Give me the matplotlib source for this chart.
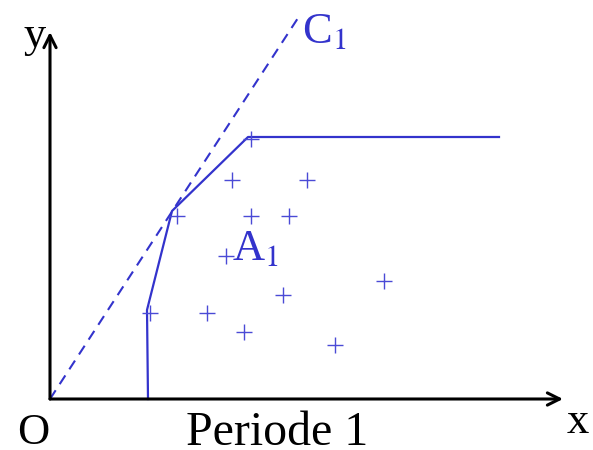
import matplotlib
matplotlib.use("Agg")
import matplotlib.pyplot as plt

plt.rcParams['font.family'] = ['Liberation Serif', 'DejaVu Serif']
plt.rcParams['mathtext.fontset'] = 'stix'

# production possibilities (period 1), units of 50 px
plan_x = [4.02, 3.64, 5.14, 2.54, 4.02, 4.78, 3.52, 6.68, 4.66, 2.00, 3.14, 3.88, 5.70]
plan_y = [5.20, 4.38, 4.38, 3.66, 3.66, 3.66, 2.86, 2.36, 2.08, 1.72, 1.72, 1.34, 1.08]

# efficient frontier A1
front_x = [1.96, 1.94, 2.44, 3.96, 8.98]
front_y = [0.00, 1.78, 3.76, 5.24, 5.24]

# cone C1 (ray through origin)
cone_x = [0.0, 4.96]
cone_y = [0.0, 7.62]

blue = '#3333cc'

fig = plt.figure(figsize=(5.93, 4.5), dpi=100)
ax = fig.add_axes([0, 0, 1, 1])
ax.set_xlim(-1.0, 10.86)
ax.set_ylim(-1.02, 7.98)
ax.axis('off')

# axes with arrows
ax.annotate('', xy=(10.26, 0), xytext=(0, 0),
            arrowprops=dict(arrowstyle='->', lw=2.2, color='black',
                            mutation_scale=22, shrinkA=0, shrinkB=0))
ax.annotate('', xy=(0, 7.34), xytext=(0, 0),
            arrowprops=dict(arrowstyle='->', lw=2.2, color='black',
                            mutation_scale=22, shrinkA=0, shrinkB=0))

ax.plot(cone_x, cone_y, color=blue, lw=1.5, ls=(0, (5, 3.5)))
ax.plot(front_x, front_y, color=blue, lw=1.6)
ax.plot(plan_x, plan_y, ls='none', marker='+', ms=11, mew=1.0, color='#4a4ad6')

ax.text(-0.3, 7.04, 'y', fontsize=32, ha='center', va='baseline')
ax.text(10.56, -0.68, 'x', fontsize=32, ha='center', va='baseline')
ax.text(-0.34, -0.9, 'O', fontsize=32, ha='center', va='baseline')
ax.text(4.55, -0.92, 'Periode 1', fontsize=34.5, ha='center', va='baseline')
ax.text(5.04, 7.12, r'C$_{1}$', fontsize=32, color=blue, ha='left', va='baseline')
ax.text(3.64, 2.78, r'A$_{1}$', fontsize=32, color=blue, ha='left', va='baseline')

fig.savefig('out.png', dpi=100)
